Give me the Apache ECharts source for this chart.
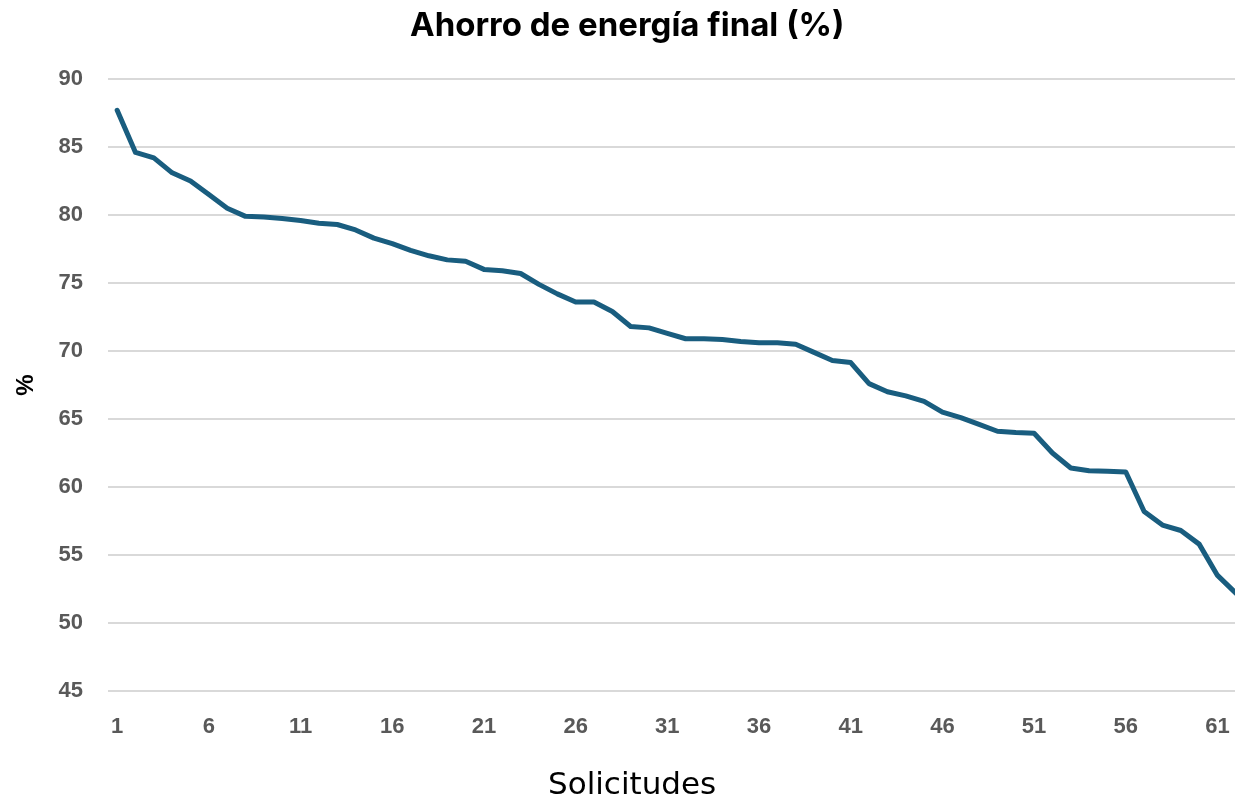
<!DOCTYPE html>
<html>
<head>
<meta charset="utf-8">
<script src="https://cdn.jsdelivr.net/npm/echarts@6/dist/echarts.min.js"></script>
<style>
	html, body { margin: 0; padding: 0; background: #fff; }
	#chart { width: 1235px; height: 805px; }
</style>
</head>
<body>
<div id="chart"></div>
<script>
const solicitudes = [];
for (let i = 1; i <= 62; i++) {
	solicitudes.push(String(i));
}

const ahorro = [
	87.7, 84.6, 84.2, 83.1, 82.5, 81.5, 80.5, 79.9, 79.85, 79.75,
	79.6, 79.4, 79.3, 78.9, 78.3, 77.9, 77.4, 77.0, 76.7, 76.6,
	76.0, 75.9, 75.7, 74.9, 74.2, 73.6, 73.6, 72.9, 71.8, 71.7,
	71.3, 70.9, 70.9, 70.85, 70.7, 70.6, 70.6, 70.5, 69.9, 69.3,
	69.15, 67.6, 67.0, 66.7, 66.3, 65.5, 65.1, 64.6, 64.1, 64.0,
	63.95, 62.5, 61.4, 61.2, 61.15, 61.1, 58.2, 57.2, 56.8, 55.8,
	53.5, 52.2
];

const chart = echarts.init(document.getElementById("chart"));
chart.setOption({
	animation: false,
	title: {
		text: "Ahorro de energía final (%)",
		left: 405,
		top: 5,
		textStyle: {
			fontFamily: "Inter",
			fontWeight: "bold",
			fontSize: 33,
			color: "#000"
		}
	},
	grid: {
		left: 108,
		top: 79,
		bottom: 114,
		width: 1137,
		outerBoundsMode: "none",
		containLabel: false
	},
	xAxis: {
		type: "category",
		data: solicitudes,
		boundaryGap: true,
		name: "Solicitudes",
		nameLocation: "start",
		nameGap: -440,
		nameTextStyle: {
			fontFamily: "DejaVu Sans",
			fontSize: 31,
			color: "#000",
			align: "left",
			verticalAlign: "top",
			padding: [79, 0, 0, 0]
		},
		axisLine: { show: false },
		axisTick: { show: false },
		axisLabel: {
			interval: 4,
			margin: 25,
			fontFamily: "Liberation Sans",
			fontWeight: "bold",
			fontSize: 22,
			color: "#595959"
		}
	},
	yAxis: {
		type: "value",
		min: 45,
		max: 90,
		interval: 5,
		name: "%",
		nameLocation: "middle",
		nameGap: 70,
		nameRotate: 90,
		nameTextStyle: {
			fontFamily: "Liberation Sans",
			fontWeight: "bold",
			fontSize: 24,
			color: "#000"
		},
		axisLabel: {
			margin: 25,
			fontFamily: "Liberation Sans",
			fontWeight: "bold",
			fontSize: 22,
			color: "#595959"
		},
		splitLine: {
			lineStyle: { color: "#d9d9d9", width: 2 }
		}
	},
	series: [
		{
			type: "line",
			data: ahorro,
			showSymbol: false,
			lineStyle: { color: "#195d7f", width: 5, join: "round", cap: "round" },
			itemStyle: { color: "#195d7f" }
		}
	]
});
</script>
</body>
</html>
